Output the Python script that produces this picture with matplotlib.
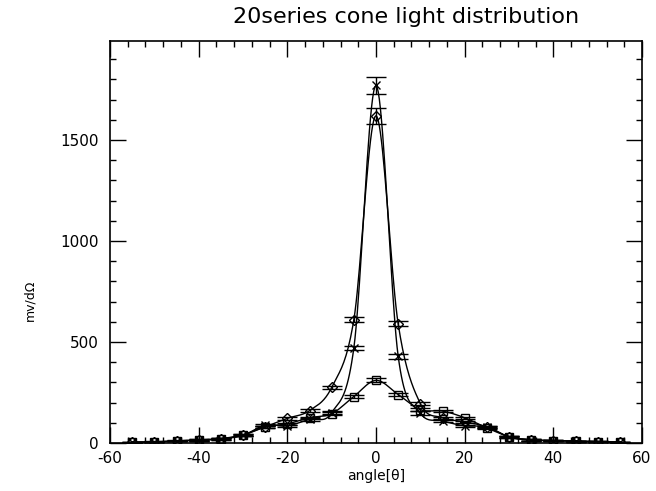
import numpy as np
import matplotlib
matplotlib.use('Agg')
import matplotlib.pyplot as plt
from matplotlib.ticker import MultipleLocator

plt.rcParams['axes.unicode_minus'] = False

# measured light distribution, 3 cones
angle = [-55, -50, -45, -40, -35, -30, -25, -20, -15, -10, -5, 0,
         5, 10, 15, 20, 25, 30, 35, 40, 45, 50, 55]

cone_a = [3, 5, 10, 15, 22, 40, 80, 122, 160, 275, 610, 1620,
          590, 195, 125, 105, 80, 30, 15, 12, 9, 6, 4]
err_a = [2, 2, 2, 3, 3, 4, 5, 6, 7, 8, 12, 40,
         12, 8, 6, 5, 5, 4, 3, 3, 2, 2, 2]

cone_b = [3, 5, 10, 14, 20, 38, 88, 85, 118, 150, 470, 1770,
          430, 148, 110, 85, 80, 30, 15, 12, 9, 6, 4]
err_b = [2, 2, 2, 3, 3, 4, 5, 6, 7, 8, 12, 40,
         12, 8, 6, 5, 5, 4, 3, 3, 2, 2, 2]

cone_c = [4, 6, 11, 15, 20, 40, 80, 95, 125, 145, 230, 310,
          240, 165, 158, 125, 75, 32, 15, 12, 9, 7, 5]
err_c = [2, 2, 2, 3, 3, 4, 5, 5, 6, 6, 8, 10,
         8, 6, 6, 5, 5, 4, 3, 3, 2, 2, 2]


def smooth(x, y, n=20):
    # catmull-rom curve through the points, only for the drawn line
    x = np.asarray(x, float)
    y = np.asarray(y, float)
    m = np.gradient(y, x)
    xs, ys = [], []
    for i in range(len(x) - 1):
        h = x[i + 1] - x[i]
        t = np.linspace(0, 1, n, endpoint=False)
        h00 = 2 * t**3 - 3 * t**2 + 1
        h10 = t**3 - 2 * t**2 + t
        h01 = -2 * t**3 + 3 * t**2
        h11 = t**3 - t**2
        xs.append(x[i] + t * h)
        ys.append(h00 * y[i] + h10 * h * m[i] + h01 * y[i + 1] + h11 * h * m[i + 1])
    xs.append([x[-1]])
    ys.append([y[-1]])
    return np.concatenate(xs), np.concatenate(ys)


fig = plt.figure(figsize=(6.56, 4.91), dpi=100)
ax = fig.add_axes([110 / 656, 48 / 491, 532 / 656, 402 / 491])

for vals, errs, mk in [(cone_a, err_a, 'D'), (cone_b, err_b, 'x'), (cone_c, err_c, 's')]:
    sx, sy = smooth(angle, vals)
    ax.plot(sx, sy, color='black', lw=1.0)
    ax.errorbar(angle, vals, yerr=errs, fmt=mk, color='black', mfc='none',
                ms=6 if mk != 'D' else 5, mew=1.0, elinewidth=1.0, capsize=7, capthick=1.0)

ax.set_xlim(-60, 60)
ax.set_ylim(0, 1990)
ax.xaxis.set_major_locator(MultipleLocator(20))
ax.xaxis.set_minor_locator(MultipleLocator(4))
ax.yaxis.set_major_locator(MultipleLocator(500))
ax.yaxis.set_minor_locator(MultipleLocator(100))
ax.tick_params(which='both', direction='in', top=True, right=True, width=1.0, labelsize=11)
ax.tick_params(which='major', length=11.5, pad=6)
ax.tick_params(which='minor', length=4)
ax.tick_params(axis='y', pad=8)
for s in ax.spines.values():
    s.set_linewidth(1.2)

fig.text(406 / 656, 1 - 17 / 491, '20series cone light distribution', ha='center', va='center', fontsize=16)
fig.text(376 / 656, 1 - 476 / 491, 'angle[θ]', ha='center', va='center', fontsize=10)
fig.text(30 / 656, 1 - 300 / 491, 'mv/dΩ', ha='center', va='center', rotation=90, fontsize=9)

fig.savefig('out.png', dpi=100)
